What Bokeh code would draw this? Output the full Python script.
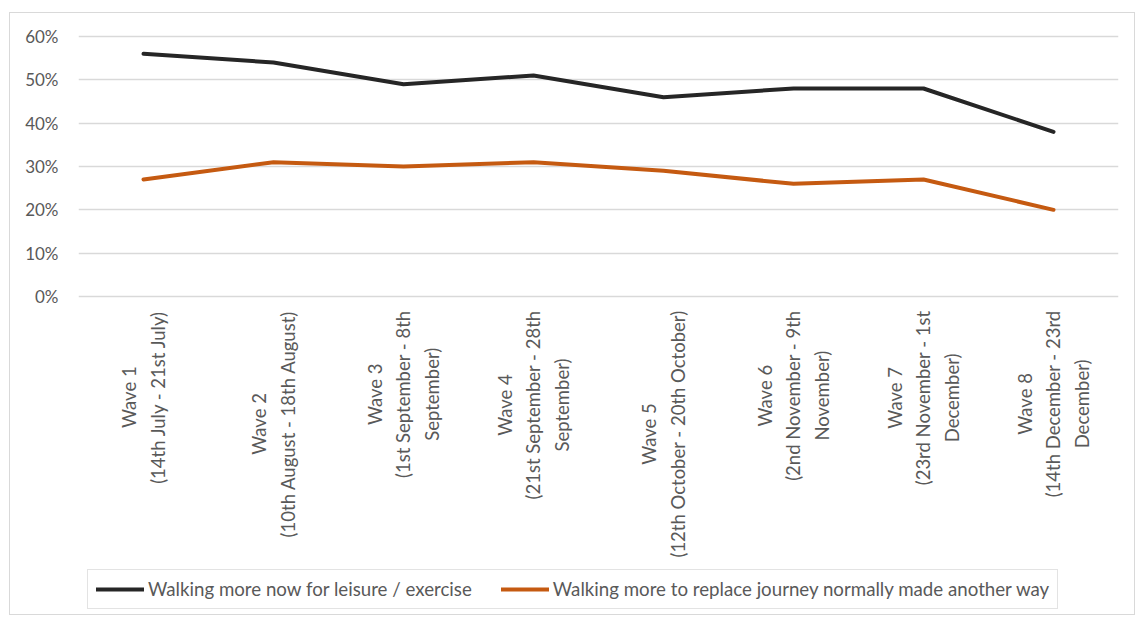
from bokeh.plotting import figure
from bokeh.models import (Legend, LegendItem, FixedTicker, NumeralTickFormatter,
                          ColumnDataSource, Range1d)
from bokeh.core.properties import value
from bokeh.embed import file_html
from bokeh.resources import INLINE

# ---- data ----
waves = ["Wave 1", "Wave 2", "Wave 3", "Wave 4", "Wave 5", "Wave 6", "Wave 7", "Wave 8"]
periods = [
    "(14th July - 21st July)",
    "(10th August - 18th August)",
    "(1st September - 8th\nSeptember)",
    "(21st September - 28th\nSeptember)",
    "(12th October - 20th October)",
    "(2nd November - 9th\nNovember)",
    "(23rd November - 1st\nDecember)",
    "(14th December - 23rd\nDecember)",
]
leisure = [0.56, 0.54, 0.49, 0.51, 0.46, 0.48, 0.48, 0.38]
replace = [0.27, 0.31, 0.30, 0.31, 0.29, 0.26, 0.27, 0.20]
y_ticks = [0.0, 0.1, 0.2, 0.3, 0.4, 0.5, 0.6]
series_names = ["Walking more now for leisure / exercise",
                "Walking more to replace journey normally made another way"]

# ---- style / layout ----
FONT = "Lato"
TEXT_COLOR = "#595959"
GRID_COLOR = "#d9d9d9"
BLACK = "#262626"
ORANGE = "#c55a11"

W, H = 1126, 603
border_top = 17
frame_h = H - border_top      # frame runs down to the bottom of the figure
px_per_unit = 433.33          # pixels per 1.0 (100%)
y_end = 0.6 + (6 / px_per_unit)
y_start = y_end - frame_h / px_per_unit

p = figure(width=W, height=H, x_range=waves, y_range=Range1d(y_start, y_end),
           x_axis_location=None,
           output_backend="svg", toolbar_location=None,
           min_border_left=68, min_border_right=18, min_border_top=border_top,
           min_border_bottom=0)
p.styles = {"border": "1px solid #d9d9d9", "margin-top": "12px", "margin-left": "9px"}
p.outline_line_color = None
p.background_fill_color = "white"
for g in p.xgrid:
    g.visible = False

yax = p.yaxis[0]
yax.ticker = FixedTicker(ticks=y_ticks)
yax.formatter = NumeralTickFormatter(format="0%")
yax.axis_line_color = None
yax.major_tick_line_color = None
yax.minor_tick_line_color = None
yax.major_label_standoff = 14
yax.major_label_text_font = FONT
yax.major_label_text_font_size = "17px"
yax.major_label_text_color = TEXT_COLOR
p.ygrid.ticker = FixedTicker(ticks=y_ticks)
p.ygrid.grid_line_color = GRID_COLOR
p.ygrid.grid_line_width = 1.5

# category labels (rotated, multi-line)
labels = [w + "\n" + per for w, per in zip(waves, periods)]
src = ColumnDataSource(dict(x=waves, y=[0.0] * len(waves), text=labels))
p.text(x="x", y="y", text="text", source=src, angle=1.5707963267948966,
       anchor=value("center_right"), text_align="center", y_offset=14,
       text_font=value(FONT), text_font_size="18.5px", text_color=TEXT_COLOR,
       text_line_height=1.3)

# lines
r1 = p.line(waves, leisure, line_color=BLACK, line_width=4, line_join="round", line_cap="round")
r2 = p.line(waves, replace, line_color=ORANGE, line_width=4, line_join="round", line_cap="round")

legend = Legend(items=[LegendItem(label=series_names[0], renderers=[r1]),
                       LegendItem(label=series_names[1], renderers=[r2])],
                orientation="horizontal", location=(9, 7),
                padding=8, spacing=29, glyph_width=48, glyph_height=18,
                label_standoff=4, margin=0,
                label_text_font=FONT, label_text_font_size="18.7px",
                label_text_color=TEXT_COLOR,
                border_line_color="#c8c8c8", border_line_width=1.5)
p.add_layout(legend)

open("out.html", "w").write(file_html(p, INLINE))
